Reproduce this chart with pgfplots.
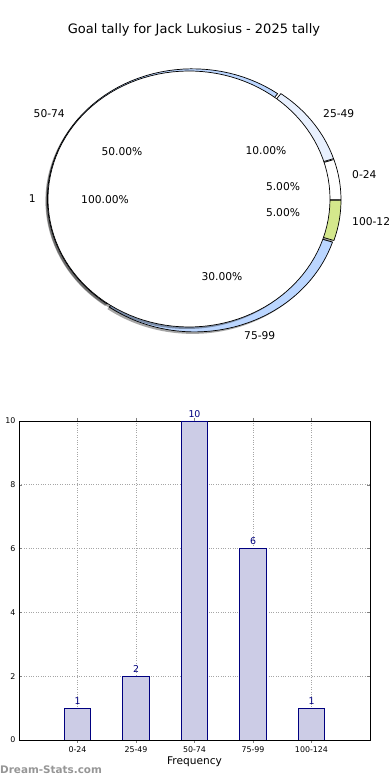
\documentclass[border=0pt]{standalone}
\usepackage{pgfplots}
\pgfplotsset{compat=1.18}
\usepackage{fontspec}
\setmainfont{DejaVu Sans}
\definecolor{cA}{RGB}{255,255,255}
\definecolor{cB}{RGB}{232,240,254}
\definecolor{cC}{RGB}{187,214,255}
\definecolor{cD}{RGB}{187,214,255}
\definecolor{cE}{RGB}{212,232,140}
\definecolor{barfill}{RGB}{204,204,230}
\definecolor{navy}{RGB}{0,0,128}
\definecolor{wm}{RGB}{150,150,150}
\newcommand{\fs}[1]{\fontsize{#1}{#1}\selectfont}
% wedge: #1 start %, #2 end %, #3 #4 exploded centre, #5 colour
\newcommand{\pieWedge}[5]{%
  \addplot[fill=black, fill opacity=0.35, draw=none, domain=3.6*#1:3.6*#2, samples=60]
    ({#3-2+145*cos(x)},{#4-2+130*sin(x)}) -- (axis cs:#3-2,#4-2) -- cycle;
  \addplot[fill=#5, draw=black, line width=0.7pt, domain=3.6*#1:3.6*#2, samples=60]
    ({#3+145*cos(x)},{#4+130*sin(x)}) -- (axis cs:#3,#4) -- cycle;
}
\begin{document}
\begin{tikzpicture}
\useasboundingbox (0,0) rectangle (390pt,780pt);
\clip (0,0) rectangle (390pt,780pt);
\begin{axis}[at={(0pt,0pt)}, anchor=south west, scale only axis,
  width=390pt, height=780pt, xmin=0, xmax=390, ymin=0, ymax=780,
  hide axis, clip=false]
  % outer ring: 0-24 5%, 25-49 10%, 50-74 50%, 75-99 30%, 100-124 5%
  \pieWedge{0}{5}{195.98}{580.31}{cA}
  \pieWedge{5}{15}{195.62}{581.18}{cB}
  \pieWedge{15}{65}{192.38}{581.18}{cC}
  \pieWedge{65}{95}{194.62}{578.10}{cD}
  \pieWedge{95}{100}{195.98}{579.69}{cE}
  % inner pie: 1 = 100%
  \addplot[fill=black, fill opacity=0.35, draw=none, domain=0:3.6*100, samples=120]
    ({187+141*cos(x)},{579+128*sin(x)}) -- cycle;
  \addplot[fill=white, draw=black, line width=0.7pt, domain=0:3.6*100, samples=120]
    ({189+141*cos(x)},{581+128*sin(x)}) -- cycle;
  % texts
  \node[font=\fs{13}] at (axis cs:194,750) {Goal tally for Jack Lukosius - 2025 tally};
  \node[font=\fs{10.7}] at (axis cs:266,629) {10.00\%};
  \node[font=\fs{10.7}] at (axis cs:283,593) {5.00\%};
  \node[font=\fs{10.7}] at (axis cs:283,567) {5.00\%};
  \node[font=\fs{10.7}] at (axis cs:122,628) {50.00\%};
  \node[font=\fs{10.7}] at (axis cs:222,503) {30.00\%};
  \node[font=\fs{10.7}] at (axis cs:105,580) {100.00\%};
  \node[font=\fs{10.7}, anchor=west, inner sep=0pt] at (axis cs:323,666) {25-49};
  \node[font=\fs{10.7}, anchor=west, inner sep=0pt] at (axis cs:352,605) {0-24};
  \node[font=\fs{10.7}, anchor=west, inner sep=0pt] at (axis cs:352,558) {100-124};
  \node[font=\fs{10.7}, anchor=west, inner sep=0pt] at (axis cs:244,444) {75-99};
  \node[font=\fs{10.7}, anchor=east, inner sep=0pt] at (axis cs:65,666) {50-74};
  \node[font=\fs{10.7}, anchor=east, inner sep=0pt] at (axis cs:36,581) {1};
  \node[font=\bfseries\fs{10.4}, text=wm, anchor=west, inner sep=0pt] at (axis cs:0,10) {Dream-Stats.com};
\end{axis}
\begin{axis}[at={(19pt,40pt)}, anchor=south west, scale only axis,
  width=351pt, height=319pt,
  xmin=-1, xmax=5, ymin=0, ymax=10,
  xtick={0,1,2,3,4}, xticklabels={0-24,25-49,50-74,75-99,100-124},
  ytick={0,2,4,6,8,10},
  tick label style={font=\fs{7.9}},
  /pgf/number format/assume math mode=true,
  tick align=inside, tick pos=both, major tick length=3pt,
  grid=major, grid style={dotted, gray!70, line width=0.6pt},
  axis line style={line width=0.8pt},
  xlabel={Frequency}, ylabel={No. of Games},
  label style={font=\fs{10.6}},
  xlabel style={yshift=3pt},
  ybar, bar width=0.45,
  nodes near coords,
  every node near coord/.append style={font=\fs{9.4}, text=navy},
]
\addplot[fill=barfill, draw=navy, line width=0.7pt] coordinates {(0,1) (1,2) (2,10) (3,6) (4,1)};
\end{axis}
\end{tikzpicture}
\end{document}
